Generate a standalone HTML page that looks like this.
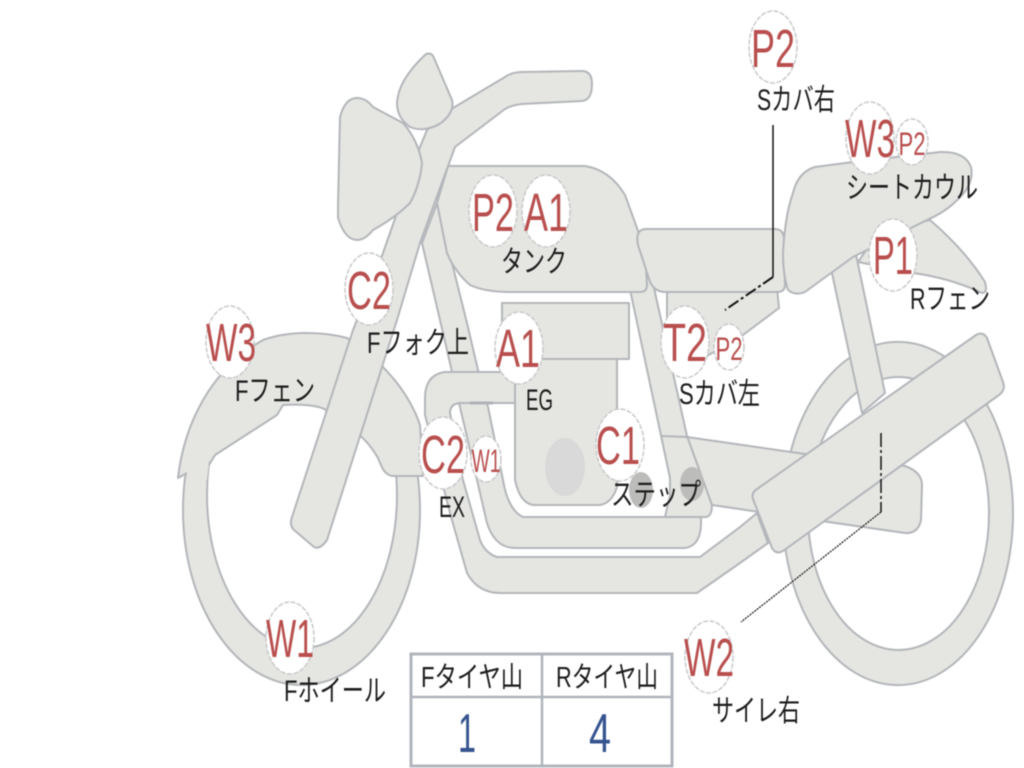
<!DOCTYPE html>
<html><head><meta charset="utf-8">
<style>
html,body{margin:0;padding:0;background:#fff;width:1024px;height:768px;overflow:hidden}
svg{display:block;position:absolute;left:0;top:0;filter:blur(0.4px)}
.s{fill:#e5e6e2;stroke:#b3b6ba;stroke-width:2;stroke-linejoin:round}
.n{fill:#e5e6e2;stroke:none}
.o{fill:none;stroke:#b3b6ba;stroke-width:2;stroke-linejoin:round}
.c{fill:#fff;stroke:#c8c9ca;stroke-width:1.500;stroke-dasharray:5 1.500}
.r{font-family:"Liberation Sans",sans-serif;fill:#b84f4e;text-anchor:middle;font-size:54px}
.q{font-family:"Liberation Sans",sans-serif;fill:#b84f4e;text-anchor:middle;font-size:32px}
.l{font-family:"Liberation Sans","Noto Sans CJK JP",sans-serif;fill:#1c1c1c;font-size:30px}
.b{font-family:"Liberation Sans",sans-serif;fill:#36548f;text-anchor:middle;font-size:55px}
</style></head><body>
<svg width="1024" height="768" viewBox="0 0 1024 768" xmlns="http://www.w3.org/2000/svg">
<!-- rear wheel -->
<path class="s" fill-rule="evenodd" d="M783 513.500a115 171.500 0 1 0 230 0a115 171.500 0 1 0 -230 0ZM808 513.500a90.500 136.500 0 1 1 181 0a90.500 136.500 0 1 1 -181 0Z"/>
<!-- front wheel -->
<path class="s" fill-rule="evenodd" d="M183 510a118.500 175 0 1 0 237 0a118.500 175 0 1 0 -237 0ZM207 495a95 153 0 1 1 190 0a95 153 0 1 1 -190 0Z"/>
<!-- front fender -->
<path class="n" d="M178 478C184 425 210 370 263 340C290 330 325 332 347 338C385 362 410 395 420 425L423 476L392 476C384 474 382 468 378 458C372 448 366 440 358 434L326 410C318 405 300 404 283 405L277 415L215 455L209 462L207 480L187 490L187 473Z"/>
<path class="o" d="M187 473L178 478C184 425 210 370 263 340C290 330 325 332 347 338C385 362 410 395 420 425L423 476L392 476C384 474 382 468 378 458C372 448 366 440 358 434L326 410C318 405 300 404 283 405L277 415L215 455L209 465"/>
<!-- frame tube -->
<path class="s" d="M422 243L450 363L460 407L487 523Q495 548 515 548L685 548Q700 546 701 525L701 517L523 517Q508 510 503 480L488 407L478 370L467 323L437 203Z"/>
<!-- exhaust -->
<path class="s" d="M515 372L445 372Q425 375 425 398L425 415L450 513L467 573Q478 593 500 593L697 593L740 563L768 543L757 513L740 527L700 557L497 557Q485 553 480 540L463 480L450 413Q450 403 462 403L515 403Z"/>
<path d="M470 403L493 403" stroke="#aeb1b5" stroke-width="3"/>
<!-- engine -->
<path class="s" d="M515 355L617 355L617 487Q612 503 600 505L533 505Q520 503 515 480Z"/>
<rect class="s" x="502" y="303" width="127" height="56"/>
<ellipse cx="565" cy="467" rx="20" ry="29" fill="#d8d9d8"/>
<!-- swing arm -->
<path class="s" d="M680 436L812 455L905 466Q922 472 922 485L921 520Q918 534 905 533L780 515L712 505L680 470Z"/>
<!-- main rear frame -->
<path class="s" d="M628 280L650 270L687 436L712 505Q712 516 706 517L665 517L670 495L670 478Z"/>
<path class="o" d="M661 436L687 437"/>
<ellipse cx="641" cy="490" rx="12" ry="18" fill="#bcbcba"/>
<ellipse cx="692" cy="484" rx="12" ry="17" fill="#bcbcba"/>
<!-- tank -->
<path class="s" d="M448 166L585 166Q610 170 625 195L645 250L647 285Q647 292 640 292L510 292Q485 292 470 285Q455 272 447 253L437 203Z"/>
<!-- rear fender, strut, muffler -->
<path class="s" d="M930 220Q965 250 985 282Q988 293 982 293Q950 278 913 273L858 262L880 230Z"/>
<path class="s" d="M827 250L853 240L885 393L862 413Z"/>
<path class="s" d="M757 489L976 335Q983 331 987 338L1003 382Q1006 390 999 395L783 551Q776 555 772 548L753 499Q751 493 757 489Z"/>
<!-- side cover -->
<path class="s" d="M667 288L777 288L779 308L743 335L700 360L667 345Z"/>
<!-- seat -->
<path class="s" d="M645 229L775 229Q783 229 784 238L785 285Q785 292 777 292L665 292Q655 292 650 282L638 245Q635 230 645 229Z"/>
<!-- cowl -->
<path class="s" d="M783 253Q785 215 793 193Q798 172 815 167L853 162L940 152Q965 151 971 167Q975 185 955 202Q945 212 927 220L853 257L805 292Q795 296 788 290Q783 275 783 253Z"/>
<!-- fork + handlebar -->
<path class="s" d="M427 130L420 147L383 253L353 330L292 517Q289 525 294 530L314 547Q320 550 327 540L397 320L420 243L455 147L505 109Q512 105 522 104L582 101Q592 100 592 84Q592 71 582 71L522 72Q512 72 505 77L453 108Z"/>
<!-- headlight -->
<path class="s" d="M338 205L340 117Q345 98 357 98Q366 98 373 107L403 123Q418 140 422 163Q420 185 410 203Q395 218 373 230Q365 240 357 240Q345 240 338 218Z"/>
<!-- flag / mirror -->
<path class="s" d="M426 54Q432 52 434 58L452 100Q455 112 441 123Q425 133 410 127Q397 118 397 103Q398 80 426 54Z"/>
<!-- leader lines -->
<path d="M773 125L773 277" fill="none" stroke="#111" stroke-width="1.500"/>
<path d="M773 277L725 310" fill="none" stroke="#111" stroke-width="2" stroke-dasharray="12 3 3 3"/>
<path d="M881 433L881 512" fill="none" stroke="#111" stroke-width="1.500" stroke-dasharray="14 3 3 3"/>
<path d="M881 512L741 622" fill="none" stroke="#111" stroke-width="1.200" stroke-dasharray="2 1"/>
<!-- circles -->
<ellipse class="c" cx="773" cy="47" rx="24" ry="36"/>
<ellipse class="c" cx="870" cy="138" rx="24" ry="36"/>
<ellipse class="c" cx="912" cy="142" rx="16" ry="23"/>
<ellipse class="c" cx="493" cy="211" rx="24" ry="36"/>
<ellipse class="c" cx="546" cy="211" rx="24" ry="36"/>
<ellipse class="c" cx="369" cy="289" rx="24" ry="36"/>
<ellipse class="c" cx="230" cy="342" rx="24" ry="36"/>
<ellipse class="c" cx="519" cy="348" rx="24" ry="36"/>
<ellipse class="c" cx="685" cy="342" rx="24" ry="36"/>
<ellipse class="c" cx="729" cy="347" rx="15" ry="23"/>
<ellipse class="c" cx="893" cy="255" rx="24" ry="36"/>
<ellipse class="c" cx="443" cy="453" rx="24" ry="36"/>
<ellipse class="c" cx="486" cy="459" rx="15" ry="23"/>
<ellipse class="c" cx="620" cy="445" rx="24" ry="36"/>
<ellipse class="c" cx="290" cy="638" rx="24" ry="36"/>
<ellipse class="c" cx="709" cy="657" rx="24" ry="36"/>
<!-- red labels -->
<text class="r" x="773" y="67" textLength="44" lengthAdjust="spacingAndGlyphs">P2</text>
<text class="r" x="870" y="157" textLength="50" lengthAdjust="spacingAndGlyphs">W3</text>
<text class="q" x="912" y="155" textLength="27" lengthAdjust="spacingAndGlyphs">P2</text>
<text class="r" x="493" y="231" textLength="42" lengthAdjust="spacingAndGlyphs">P2</text>
<text class="r" x="546" y="231" textLength="44" lengthAdjust="spacingAndGlyphs">A1</text>
<text class="r" x="369" y="309" textLength="44" lengthAdjust="spacingAndGlyphs">C2</text>
<text class="r" x="231" y="361" textLength="50" lengthAdjust="spacingAndGlyphs">W3</text>
<text class="r" x="518" y="367" textLength="44" lengthAdjust="spacingAndGlyphs">A1</text>
<text class="r" x="685" y="361" textLength="44" lengthAdjust="spacingAndGlyphs">T2</text>
<text class="q" x="729" y="360" textLength="27" lengthAdjust="spacingAndGlyphs">P2</text>
<text class="r" x="893" y="274" textLength="40" lengthAdjust="spacingAndGlyphs">P1</text>
<text class="r" x="443" y="473" textLength="44" lengthAdjust="spacingAndGlyphs">C2</text>
<text class="q" x="486" y="472" textLength="29" lengthAdjust="spacingAndGlyphs">W1</text>
<text class="r" x="618" y="464" textLength="44" lengthAdjust="spacingAndGlyphs">C1</text>
<text class="r" x="290" y="657" textLength="48" lengthAdjust="spacingAndGlyphs">W1</text>
<text class="r" x="709" y="676" textLength="50" lengthAdjust="spacingAndGlyphs">W2</text>
<!-- black labels -->
<text class="l" x="757" y="110" textLength="78" lengthAdjust="spacingAndGlyphs">Sカバ右</text>
<text class="l" x="846" y="198" textLength="132" lengthAdjust="spacingAndGlyphs">シートカウル</text>
<text class="l" x="501" y="272" textLength="66" lengthAdjust="spacingAndGlyphs">タンク</text>
<text class="l" x="910" y="309" textLength="80" lengthAdjust="spacingAndGlyphs">Rフェン</text>
<text class="l" x="367" y="353" textLength="102" lengthAdjust="spacingAndGlyphs">Fフォク上</text>
<text class="l" x="235" y="401" textLength="80" lengthAdjust="spacingAndGlyphs">Fフェン</text>
<text class="l" x="679" y="404" textLength="81" lengthAdjust="spacingAndGlyphs">Sカバ左</text>
<text class="l" x="526" y="410" textLength="27" lengthAdjust="spacingAndGlyphs">EG</text>
<text class="l" x="439" y="517" textLength="26" lengthAdjust="spacingAndGlyphs">EX</text>
<text class="l" x="611" y="505" textLength="90" lengthAdjust="spacingAndGlyphs">ステップ</text>
<text class="l" x="284" y="701" textLength="102" lengthAdjust="spacingAndGlyphs">Fホイール</text>
<text class="l" x="712" y="721" textLength="88" lengthAdjust="spacingAndGlyphs">サイレ右</text>
<!-- table -->
<rect x="411" y="654" width="261" height="112" fill="#fff" stroke="#b0b5bc" stroke-width="3"/>
<path d="M411 697L672 697M542 654L542 766" stroke="#b0b5bc" stroke-width="2.500" fill="none"/>
<text class="l" x="421" y="687" textLength="102" lengthAdjust="spacingAndGlyphs" style="font-size:29px">Fタイヤ山</text>
<text class="l" x="556" y="687" textLength="102" lengthAdjust="spacingAndGlyphs" style="font-size:29px">Rタイヤ山</text>
<text class="b" x="467" y="752" textLength="18" lengthAdjust="spacingAndGlyphs">1</text>
<text class="b" x="600" y="752" textLength="22" lengthAdjust="spacingAndGlyphs">4</text>
</svg>
</body></html>
